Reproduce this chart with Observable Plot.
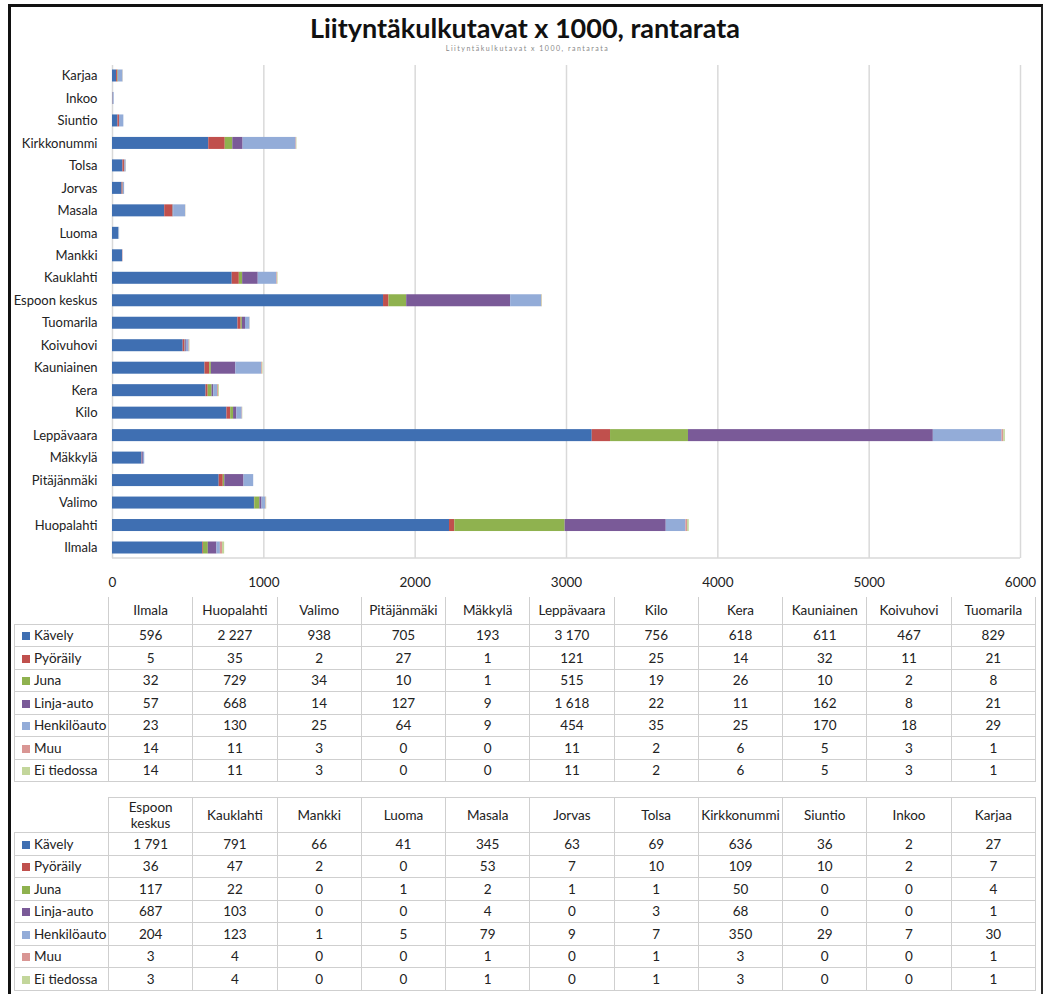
<!DOCTYPE html>
<html>
<head>
<meta charset="utf-8">
<script src="https://cdn.jsdelivr.net/npm/d3@7"></script>
<script src="https://cdn.jsdelivr.net/npm/@observablehq/plot@0.6"></script>
<style>
  html, body { margin: 0; padding: 0; background: #fff; }
  #page { position: relative; width: 1045px; height: 994px; overflow: hidden; font-family: Lato, "Open Sans", sans-serif; color: #222; }
  #frame { position: absolute; left: 8px; top: 4px; width: 1030px; height: 1000px; border-left: 3px solid #111; border-top: 3px solid #111; border-right: 2px solid #222; }
  #title { position: absolute; left: 0; top: 12px; width: 1050px; text-align: center; font-weight: 700; font-size: 27px; line-height: 32px; color: #111; }
  #subtitle { position: absolute; left: 0; top: 44px; width: 1055px; text-align: center; font-size: 7px; line-height: 8px; color: #888; letter-spacing: 1.5px; }
  #chart { position: absolute; left: 0; top: 0; }
  table.dt { position: absolute; left: 14px; width: 1022px; border-collapse: collapse; table-layout: fixed; font-size: 13.5px; }
  table.dt td, table.dt th { border: 1px solid #cfcfcf; text-align: center; padding: 0; font-weight: 400; overflow: hidden; white-space: nowrap; }
  table.dt th { line-height: 16px; }
  table.dt th.corner { border: none; }
  table.dt td.lab { text-align: left; padding-left: 7px; }
  table.dt tr.row { height: 22.5px; }
  .sw { display: inline-block; width: 8px; height: 8px; margin-right: 4px; vertical-align: 0px; }
  #t1 tr.head th { border-top: none; }
</style>
</head>
<body>
<div id="page">
  <div id="chart"></div>
  <div id="title">Liityntäkulkutavat x 1000, rantarata</div>
  <div id="subtitle">Liityntäkulkutavat x 1000, rantarata</div>
  <div id="frame"></div>
</div>
<script>
// ---- Data ----
const stations = ["Ilmala","Huopalahti","Valimo","Pitäjänmäki","Mäkkylä","Leppävaara","Kilo","Kera","Kauniainen","Koivuhovi","Tuomarila","Espoon keskus","Kauklahti","Mankki","Luoma","Masala","Jorvas","Tolsa","Kirkkonummi","Siuntio","Inkoo","Karjaa"];
const modes = ["Kävely","Pyöräily","Juna","Linja-auto","Henkilöauto","Muu","Ei tiedossa"];
const kavely      = [596,2227,938,705,193,3170,756,618,611,467,829,1791,791,66,41,345,63,69,636,36,2,27];
const pyoraily    = [5,35,2,27,1,121,25,14,32,11,21,36,47,2,0,53,7,10,109,10,2,7];
const juna        = [32,729,34,10,1,515,19,26,10,2,8,117,22,0,1,2,1,1,50,0,0,4];
const linjaauto   = [57,668,14,127,9,1618,22,11,162,8,21,687,103,0,0,4,0,3,68,0,0,1];
const henkiloauto = [23,130,25,64,9,454,35,25,170,18,29,204,123,1,5,79,9,7,350,29,7,30];
const muu         = [14,11,3,0,0,11,2,6,5,3,1,3,4,0,0,1,0,1,3,0,0,1];
const eiTiedossa  = [14,11,3,0,0,11,2,6,5,3,1,3,4,0,0,1,0,1,3,0,0,1];
const xTicks = [0,1000,2000,3000,4000,5000,6000];
const colors = ["#3f6fb2","#c0504d","#8fb24f","#7a5a98","#93acd8","#d99694","#c3d69b"];

const series = [kavely, pyoraily, juna, linjaauto, henkiloauto, muu, eiTiedossa];
const long = [];
modes.forEach((m, mi) => stations.forEach((s, si) => long.push({station: s, mode: m, value: series[mi][si]})));

// ---- Chart ----
const baseline = (index, scales, values, dims) => {
  const y = dims.height - dims.marginBottom;
  const line = d3.create("svg:line")
    .attr("x1", dims.marginLeft).attr("x2", dims.width - dims.marginRight)
    .attr("y1", y).attr("y2", y)
    .attr("stroke", "#d9d9d9").attr("stroke-width", 1.5);
  return line.node();
};

const chart = Plot.plot({
  width: 1045,
  height: 600,
  marginLeft: 112,
  marginRight: 25,
  marginTop: 65,
  marginBottom: 42,
  style: {fontFamily: "Lato, 'Open Sans', sans-serif", fontSize: "13px", color: "#222", background: "transparent"},
  x: {domain: [0, 6000], label: null},
  y: {domain: stations.slice().reverse(), paddingInner: 0.466, paddingOuter: 0.2, round: false, label: null},
  color: {domain: modes, range: colors},
  marks: [
    Plot.gridX(xTicks, {stroke: "#d9d9d9", strokeOpacity: 1, strokeWidth: 1.5}),
    baseline,
    Plot.barX(long, {x: "value", y: "station", fill: "mode"}),
    Plot.axisX(xTicks, {tickSize: 0, tickPadding: 19, fontSize: 13.5, label: null, tickFormat: d => String(d)}),
    Plot.axisY({tickSize: 0, tickPadding: 15, fontSize: 13, label: null})
  ]
});
document.getElementById("chart").appendChild(chart);

// ---- Tables ----
const fmt = d3.formatLocale({decimal: ",", thousands: "\u00a0", grouping: [3], currency: ["", ""]}).format(",d");
function buildTable(id, top, headH, from, to) {
  const t = document.createElement("table");
  t.className = "dt"; t.id = id; t.style.top = top + "px";
  const cg = document.createElement("colgroup");
  const c0 = document.createElement("col"); c0.style.width = "94px"; cg.appendChild(c0);
  for (let i = from; i < to; i++) cg.appendChild(document.createElement("col"));
  t.appendChild(cg);
  const hr = document.createElement("tr"); hr.className = "head"; hr.style.height = headH + "px";
  const corner = document.createElement("th"); corner.className = "corner"; hr.appendChild(corner);
  for (let i = from; i < to; i++) {
    const th = document.createElement("th");
    th.innerHTML = stations[i].split(" ").join("<br>");
    hr.appendChild(th);
  }
  t.appendChild(hr);
  modes.forEach((m, mi) => {
    const tr = document.createElement("tr"); tr.className = "row";
    const lab = document.createElement("td"); lab.className = "lab";
    lab.innerHTML = `<span class="sw" style="background:${colors[mi]}"></span>${m}`;
    tr.appendChild(lab);
    for (let i = from; i < to; i++) {
      const td = document.createElement("td");
      td.textContent = fmt(series[mi][i]);
      tr.appendChild(td);
    }
    t.appendChild(tr);
  });
  document.getElementById("page").appendChild(t);
}
buildTable("t1", 597, 27, 0, 11);
buildTable("t2", 797, 35, 11, 22);
</script>
</body>
</html>
